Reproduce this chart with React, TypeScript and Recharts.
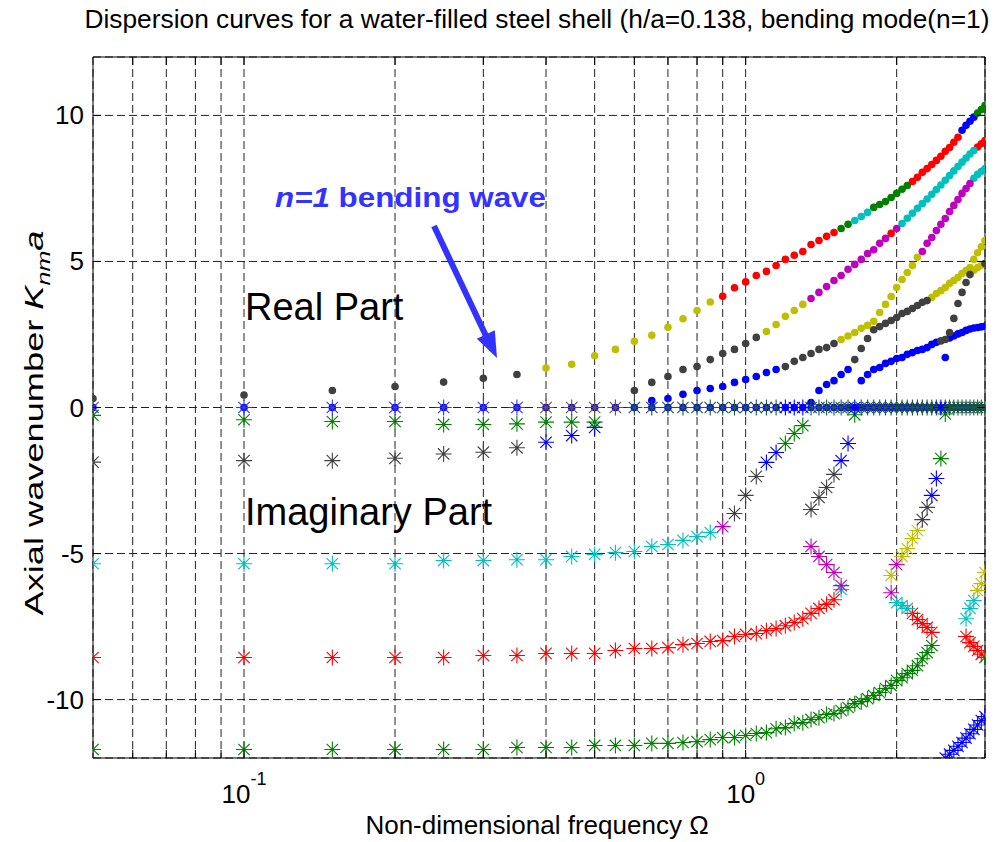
import { CartesianGrid, ReferenceLine, Scatter, ScatterChart, XAxis, YAxis } from 'recharts'

const W = 995
const H = 842
const PLOT_LEFT = 93
const PLOT_RIGHT = 985
const PLOT_TOP = 57
const PLOT_BOTTOM = 758
const FONT = "'Liberation Sans', Arial, Helvetica, sans-serif"

// non-dimensional frequency grid
const freq = [
  0.05, 0.1, 0.15, 0.2, 0.25, 0.3, 0.35, 0.4, 0.45, 0.5,
  0.55, 0.6, 0.65, 0.7, 0.75, 0.8, 0.85, 0.9, 0.95, 1.0,
  1.05, 1.1, 1.15, 1.2, 1.25, 1.3, 1.35, 1.4, 1.45, 1.5,
  1.55, 1.6, 1.65, 1.7, 1.75, 1.8, 1.85, 1.9, 1.95, 2.0,
  2.05, 2.1, 2.15, 2.2, 2.25, 2.3, 2.35, 2.4, 2.45, 2.5,
  2.55, 2.6, 2.65, 2.7, 2.75, 2.8, 2.85, 2.9, 2.95, 3.0,
]

const xTicks = [0.06, 0.07, 0.08, 0.09, 0.1, 0.2, 0.3, 0.4, 0.5, 0.6, 0.7, 0.8, 0.9, 1, 2, 3]
const yTicks = [-10, -5, 0, 5, 10]

// MATLAB colour order, plus the blended tones seen where markers pile up on K=0
const palette: Record<string, string> = {
  b: '#0000ff',
  g: '#008000',
  r: '#ff0000',
  c: '#00bfbf',
  m: '#bf00bf',
  y: '#bfbf00',
  k: '#404040',
  p: '#3a3ad8',
  n: '#6e5238',
  d: '#1d5c3a',
}

type Run = [string, number]
type Branch = { from: number; v: number[]; runs: Run[] }

// ---- real parts (dots) ----
const reBending: Branch = {
  from: 0.05,
  v: [
    0.31, 0.43, 0.58, 0.72, 0.87, 1.0, 1.13,
    1.35, 1.48, 1.77, 1.99, 2.27, 2.47, 2.75, 3.04, 3.32, 3.61,
    3.81, 4.1, 4.3, 4.52, 4.66, 4.86, 5.07, 5.21, 5.34, 5.58, 5.72, 5.86, 5.99,
    6.13, 6.27,
    6.4, 6.54, 6.68,
    6.85, 6.95, 7.05, 7.19, 7.33, 7.47, 7.6,
    7.74, 7.88, 8.05, 8.18, 8.32, 8.46, 8.6, 8.77, 8.9, 9.08, 9.25,
    9.49, 9.66, 9.8, 9.94,
    10.08, 10.2, 10.34,
  ],
  runs: [['k', 7], ['y', 10], ['r', 13], ['g', 2], ['c', 3], ['g', 7], ['r', 11], ['b', 4], ['g', 3]],
}

const reSecond: Branch = {
  from: 0.6,
  v: [
    0.58, 0.86, 1.06, 1.3, 1.4, 1.64, 1.85, 1.99, 2.19, 2.4,
    2.6, 2.84, 3.12, 3.32, 3.53,
    3.73, 3.94, 4.14, 4.35, 4.52, 4.73, 4.9, 5.07, 5.27, 5.4, 5.62, 5.79,
    5.96,
    6.13,
    6.3, 6.48, 6.65, 6.82, 6.98, 7.14, 7.3, 7.46, 7.62, 7.78, 7.94, 8.1, 8.25, 8.4, 8.54, 8.68, 8.8,
    8.92, 9.03, 9.14,
  ],
  runs: [['k', 10], ['y', 5], ['m', 12], ['r', 1], ['m', 1], ['c', 17], ['r', 3]],
}

const reThird: Branch = {
  from: 0.65,
  v: [
    0.24, 0.31, 0.45, 0.58, 0.65, 0.72, 0.86, 0.96, 1.06, 1.2, 1.3,
    1.4, 1.58, 1.71, 1.85, 1.99, 2.05, 2.19,
    2.33, 2.45, 2.57, 2.71, 2.81, 2.95, 3.25, 3.53, 3.8, 4.11, 4.38, 4.62, 4.86, 5.14,
    5.34, 5.62, 5.82, 6.06, 6.27, 6.47, 6.71, 6.92, 7.12, 7.33, 7.5, 7.67,
    7.85, 7.98, 8.08, 8.18,
  ],
  runs: [['b', 11], ['k', 7], ['y', 14], ['m', 12], ['c', 4]],
}

const reFourth: Branch = {
  from: 1.35,
  v: [
    0.17, 0.58, 0.79, 0.92, 1.13, 1.3,
    1.64, 2.02, 2.36, 2.66, 2.77, 2.88, 2.98, 3.08, 3.22, 3.29, 3.39, 3.49, 3.6, 3.66,
    3.77, 3.9, 4.0, 4.11, 4.25, 4.35, 4.45, 4.59, 4.69, 4.79, 5.07, 5.3, 5.5, 5.72,
  ],
  runs: [['b', 6], ['k', 14], ['y', 14]],
}

const reFifth: Branch = {
  from: 1.7,
  v: [
    0.92, 1.13, 1.3, 1.37, 1.51, 1.58, 1.68, 1.71, 1.82, 1.88, 1.95, 1.99, 2.05, 2.16, 2.23,
    2.28, 2.33,
    2.38, 2.45, 2.52, 2.57, 2.64, 2.69, 2.72, 2.74, 2.76, 2.78,
  ],
  runs: [['b', 15], ['k', 2], ['b', 10]],
}

const reSixth: Branch = {
  from: 2.5,
  v: [1.71, 2.57, 3.05, 3.56, 3.94, 4.28, 4.55, 4.7, 4.79, 4.86, 4.93],
  runs: [['b', 1], ['k', 6], ['y', 3], ['k', 1]],
}

// real part of the purely imaginary roots
const reZero: Branch = {
  from: 0.05,
  v: [
    0, 0, 0, 0, 0, 0, 0, 0, 0, 0,
    0, 0, 0, 0, 0, 0, 0, 0, 0, 0,
    0, 0, 0, 0, 0, 0, 0, 0, 0, 0,
    0, 0, 0, 0, 0, 0, 0, 0, 0, 0,
    0, 0, 0, 0, 0, 0, 0, 0, 0, 0,
    0, 0, 0, 0, 0, 0, 0, 0, 0, 0,
  ],
  runs: [['b', 60]],
}

// ---- imaginary parts (asterisks) ----
const imZero: Branch = {
  from: 0.05,
  v: [
    0, 0, 0, 0, 0, 0, 0, 0, 0, 0,
    0, 0, 0, 0, 0, 0, 0, 0, 0, 0,
    0, 0, 0, 0, 0, 0, 0, 0, 0, 0,
    0, 0, 0, 0, 0, 0, 0, 0, 0, 0,
    0, 0, 0, 0, 0, 0, 0, 0, 0, 0,
    0, 0, 0, 0, 0, 0, 0, 0, 0, 0,
  ],
  runs: [['p', 7], ['n', 4], ['d', 12], ['b', 3], ['d', 6], ['b', 1], ['d', 15], ['b', 1], ['d', 11]],
}

const imNear: Branch = {
  from: 0.05,
  v: [-0.27, -0.42, -0.48, -0.48, -0.58, -0.58, -0.56, -0.5, -0.5, -0.5],
  runs: [['g', 10]],
}

const imLow: Branch = {
  from: 0.05,
  v: [-1.87, -1.82, -1.82, -1.74, -1.59, -1.53, -1.38, -1.19, -0.96, -0.68],
  runs: [['k', 7], ['b', 3]],
}

const imFive: Branch = {
  from: 0.05,
  v: [
    -5.35, -5.35, -5.35, -5.35, -5.24, -5.24, -5.21, -5.21, -5.1, -5.03,
    -4.97, -4.93, -4.76, -4.69, -4.55, -4.42, -4.28, -4.08, -3.63, -3.01,
    -2.36, -1.88, -1.54, -1.23, -0.89, -0.62,
  ],
  runs: [['c', 17], ['m', 1], ['k', 3], ['b', 2], ['g', 3]],
}

const imEight: Branch = {
  from: 0.05,
  v: [
    -8.56, -8.56, -8.56, -8.56, -8.56, -8.49, -8.49, -8.42, -8.42, -8.42,
    -8.32, -8.25, -8.25, -8.22, -8.12, -8.08, -8.01, -7.98, -7.84, -7.77,
    -7.74, -7.64, -7.57, -7.47, -7.36, -7.23, -7.05, -6.88, -6.74, -6.58,
    -6.23,
  ],
  runs: [['r', 30], ['c', 1]],
}

const imEightUpper: Branch = {
  from: 1.35,
  v: [-4.76, -5.1, -5.38, -5.65, -6.1],
  runs: [['m', 5]],
}

const imTwelve: Branch = {
  from: 0.05,
  v: [
    -11.71, -11.71, -11.71, -11.71, -11.71, -11.71, -11.64, -11.64, -11.64, -11.57,
    -11.57, -11.57, -11.5, -11.5, -11.47, -11.44, -11.37, -11.3, -11.3, -11.23,
    -11.16, -11.13, -11.0, -10.96, -10.82, -10.79, -10.68, -10.62, -10.51, -10.48,
    -10.38, -10.27, -10.14, -10.07, -9.97, -9.86, -9.76, -9.62, -9.52, -9.35,
    -9.25, -9.11, -9.0, -8.84, -8.6, -8.39, -8.15,
  ],
  runs: [['g', 47]],
}

const imMidUpper: Branch = {
  from: 1.95,
  v: [-5.75, -5.38, -5.1, -4.83, -4.49, -4.21, -3.84, -3.42, -3.01, -2.43, -1.75, -0.22],
  runs: [['y', 1], ['m', 1], ['y', 4], ['k', 2], ['b', 2], ['g', 2]],
}

const imMidLower: Branch = {
  from: 1.95,
  v: [-6.34, -6.68, -6.78, -6.88, -7.05, -7.26, -7.4, -7.53, -7.7],
  runs: [['m', 1], ['c', 3], ['r', 5]],
}

const imSteep: Branch = {
  from: 1.35,
  v: [-3.49, -3.08, -2.74, -2.29, -1.82, -1.23, -0.25],
  runs: [['k', 4], ['b', 2], ['g', 1]],
}

const imEndUpper: Branch = {
  from: 2.75,
  v: [-7.23, -6.88, -6.61, -6.27, -6.03, -5.65],
  runs: [['c', 3], ['y', 3]],
}

const imEndLower: Branch = {
  from: 2.75,
  v: [-7.84, -8.05, -8.18, -8.32, -8.45, -8.56],
  runs: [['r', 5], ['g', 1]],
}

const imBottom: Branch = {
  from: 2.5,
  v: [-12.0, -11.87, -11.74, -11.6, -11.47, -11.32, -11.17, -11.02, -10.87, -10.72, -10.58],
  runs: [['b', 11]],
}

type Pt = { f: number; v: number; c: string }

function expand(b: Branch): Pt[] {
  const start = freq.indexOf(b.from)
  const cols: string[] = []
  b.runs.forEach(([c, n]) => {
    for (let i = 0; i < n; i++) cols.push(c)
  })
  return b.v.map((v, i) => ({ f: freq[start + i], v, c: cols[i] }))
}

function groupByColour(pts: Pt[], order: string[]) {
  return order
    .map((c) => ({ c, data: pts.filter((p) => p.c === c) }))
    .filter((g) => g.data.length > 0)
}

const colourOrder = ['b', 'g', 'r', 'c', 'm', 'y', 'k']

const dotGroups = [
  ...groupByColour(expand(reZero), colourOrder),
  ...groupByColour(
    [reBending, reSecond, reThird, reFourth, reFifth, reSixth].flatMap(expand),
    colourOrder,
  ),
]

const starGroups = [
  ...groupByColour(
    [imNear, imLow, imFive, imEight, imEightUpper, imTwelve, imMidUpper, imMidLower, imSteep, imEndUpper, imEndLower, imBottom].flatMap(expand),
    colourOrder,
  ),
  ...groupByColour(expand(imZero), ['p', 'n', 'd', 'b']),
]

const dotShape = (colour: string) => (props: any) => (
  <circle cx={props.cx} cy={props.cy} r={3.8} fill={colour} />
)

const starShape = (colour: string) => (props: any) => {
  const { cx, cy } = props
  const a = 8
  const d = 5.7
  return (
    <path
      d={`M${cx - a},${cy}H${cx + a}M${cx},${cy - a}V${cy + a}M${cx - d},${cy - d}L${cx + d},${cy + d}M${cx - d},${cy + d}L${cx + d},${cy - d}`}
      stroke={colour}
      strokeWidth={1.1}
      fill="none"
    />
  )
}

function XTick(props: any) {
  const { x, payload } = props
  const exp = payload.value === 0.1 ? '-1' : payload.value === 1 ? '0' : null
  return (
    <g>
      <line x1={x} y1={PLOT_BOTTOM} x2={x} y2={PLOT_BOTTOM - 8} stroke="#000" />
      <line x1={x} y1={PLOT_TOP} x2={x} y2={PLOT_TOP + 8} stroke="#000" />
      {exp && (
        <text x={x} y={PLOT_BOTTOM + 45} textAnchor="middle" fontSize={26} fontFamily={FONT} fill="#000">
          10
          <tspan dy={-18} fontSize={18}>
            {exp}
          </tspan>
        </text>
      )}
    </g>
  )
}

function YTick(props: any) {
  const { y, payload } = props
  return (
    <g>
      <line x1={PLOT_LEFT} y1={y} x2={PLOT_LEFT + 8} y2={y} stroke="#000" />
      <line x1={PLOT_RIGHT} y1={y} x2={PLOT_RIGHT - 8} y2={y} stroke="#000" />
      <text x={84} y={y + 9} textAnchor="end" fontSize={26} fontFamily={FONT} fill="#000">
        {payload.value}
      </text>
    </g>
  )
}

export default function App() {
  return (
    <div style={{ position: 'absolute', left: 0, top: 0, width: W, height: H, background: '#fff' }}>
      <ScatterChart width={W} height={H} margin={{ top: PLOT_TOP, right: W - PLOT_RIGHT, bottom: 0, left: 0 }}>
        <CartesianGrid stroke="#222" strokeDasharray="8 4" />
        <XAxis
          dataKey="f"
          type="number"
          scale="log"
          domain={[0.05, 3]}
          allowDataOverflow
          ticks={xTicks}
          interval={0}
          height={H - PLOT_BOTTOM}
          tickLine={false}
          tickSize={0}
          tickMargin={0}
          axisLine={{ stroke: '#000' }}
          tick={(p: any) => <XTick {...p} />}
        />
        <YAxis
          dataKey="v"
          type="number"
          domain={[-12, 12]}
          allowDataOverflow
          ticks={yTicks}
          interval={0}
          width={PLOT_LEFT}
          tickLine={false}
          tickSize={0}
          tickMargin={0}
          axisLine={{ stroke: '#000' }}
          tick={(p: any) => <YTick {...p} />}
        />
        <ReferenceLine y={12} stroke="#000" />
        <ReferenceLine x={3} stroke="#000" />
        {dotGroups.map((g, i) => (
          <Scatter key={`d${i}`} data={g.data} shape={dotShape(palette[g.c])} isAnimationActive={false} />
        ))}
        {starGroups.map((g, i) => (
          <Scatter key={`s${i}`} data={g.data} shape={starShape(palette[g.c])} isAnimationActive={false} />
        ))}
      </ScatterChart>

      <svg
        width={W}
        height={H}
        style={{ position: 'absolute', left: 0, top: 0, pointerEvents: 'none' }}
        fontFamily={FONT}
      >
        <text x={537} y={28} fontSize={26} textAnchor="middle" textLength={905} lengthAdjust="spacingAndGlyphs">
          Dispersion curves for a water-filled steel shell (h/a=0.138, bending mode(n=1)
        </text>
        <text x={537} y={834} fontSize={26} textAnchor="middle">
          Non-dimensional frequency Ω
        </text>
        <text
          transform="translate(43,423) rotate(-90)"
          fontSize={26}
          textAnchor="middle"
          textLength={385}
          lengthAdjust="spacingAndGlyphs"
        >
          Axial wavenumber <tspan fontStyle="italic">K</tspan>
          <tspan fontStyle="italic" fontSize={18} dy={7}>
            nm
          </tspan>
          <tspan fontStyle="italic" dy={-7}>
            a
          </tspan>
        </text>
        <text x={245} y={320} fontSize={38}>
          Real Part
        </text>
        <text x={245} y={525} fontSize={38}>
          Imaginary Part
        </text>
        <text x={275} y={207} fontSize={28} fontWeight="bold" fill="#3333ff" textLength={271} lengthAdjust="spacingAndGlyphs">
          <tspan fontStyle="italic">n=1</tspan> bending wave
        </text>
        <line x1={434} y1={226} x2={487} y2={338} stroke="#3333ff" strokeWidth={6} />
        <polygon points="497,358 476.8,338.8 494.8,330.2" fill="#3333ff" />
      </svg>
    </div>
  )
}
